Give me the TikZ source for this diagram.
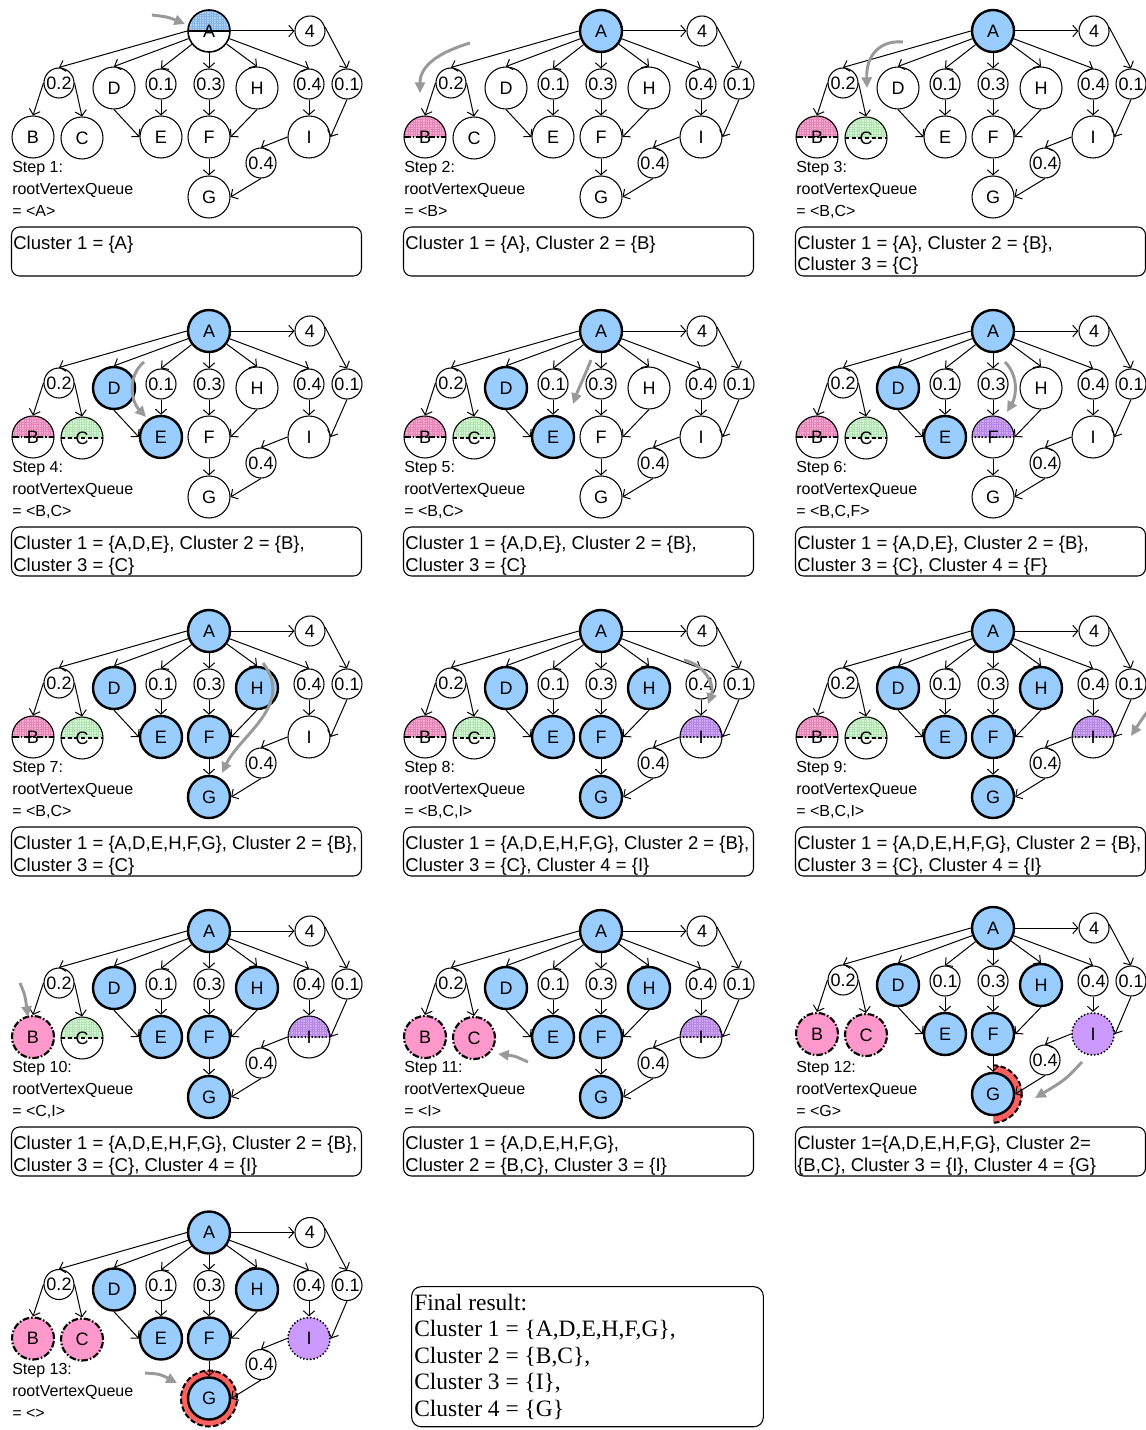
\documentclass[tikz,border=0pt]{standalone}
\usepackage{fontspec}
\setmainfont{Liberation Sans}
\newfontfamily\resultfont{Liberation Serif}
\usetikzlibrary{arrows.meta,patterns.meta}
\definecolor{nblue}{HTML}{99CCFF}
\definecolor{npink}{HTML}{FF99CC}
\definecolor{ngreen}{HTML}{CCFFCC}
\definecolor{npurple}{HTML}{CC99FF}
\definecolor{nred}{HTML}{FF3333}
\definecolor{garrow}{HTML}{999999}
\pgfdeclarelayer{bg}
\pgfsetlayers{bg,main}
\tikzset{
  vtx/.style={circle, draw, line width=0.8pt, fill=white, inner sep=0pt,
     font=\fontsize{13.5pt}{16pt}\selectfont},
  big/.style={vtx, minimum size=31.5pt},
  small/.style={vtx, minimum size=22.5pt},
  arr/.style={line width=0.75pt, -{Straight Barb[length=3.8pt,width=8.5pt]}},
  garr/.style={draw=garrow, line width=2.2pt, -{Triangle[length=8pt,width=7.5pt]}},
  bluev/.style={fill=nblue, line width=1.8pt},
  dashdotline/.style={dash pattern=on 5pt off 1.5pt on 1.2pt off 1.5pt},
  dashline/.style={dash pattern=on 3pt off 2pt},
  dotline/.style={line cap=round, dash pattern=on 0pt off 2.6pt},
  halfv/.style 2 args={path picture={
     \fill[#1!85] (path picture bounding box.north west) rectangle (path picture bounding box.east);
     \fill[pattern={Lines[angle=0,distance=1.8pt,line width=0.25pt]}, pattern color=#1!88!black]
        (path picture bounding box.north west) rectangle (path picture bounding box.east);
     \fill[pattern={Lines[angle=90,distance=1.8pt,line width=0.25pt]}, pattern color=#1!88!black]
        (path picture bounding box.north west) rectangle (path picture bounding box.east);
     \draw[line width=1.6pt, #2] (path picture bounding box.west) -- (path picture bounding box.east);}},
  pinkv/.style={fill=npink, line width=1.6pt, dashdotline},
  purplev/.style={fill=npurple, line width=1.6pt, dotline},
  sA/.style={}, sB/.style={}, sC/.style={}, sD/.style={}, sE/.style={},
  sF/.style={}, sG/.style={}, sH/.style={}, sI/.style={},
  steptxt/.style={anchor=base west, inner sep=0pt, font=\fontsize{12pt}{14pt}\selectfont},
  ctxt/.style={anchor=base west, inner sep=0pt, font=\fontsize{13.9pt}{16pt}\selectfont},
  rtxt/.style={anchor=base west, inner sep=0pt, font=\resultfont\fontsize{17.6pt}{20pt}\selectfont},
  cbox/.style={draw, line width=0.8pt, rounded corners=6pt, minimum width=262.5pt,
     minimum height=36.75pt, inner sep=0pt},
  ringfill/.style={fill=nred!78},
  ringline/.style={line width=1.5pt, dash pattern=on 4pt off 2pt},
}
\newcommand\drawgraph{%
  \node[big, sA] (A) at (209,31) {A};
  \node[small] (n4) at (310,31) {4};
  \node[small] (w02) at (59,83) {0.2};
  \node[big, sD] (D) at (114,88) {D};
  \node[small] (w01a) at (161,84) {0.1};
  \node[small] (w03) at (209,84) {0.3};
  \node[big, sH] (H) at (257,88) {H};
  \node[small] (w04a) at (309,84) {0.4};
  \node[small] (w01b) at (347,84) {0.1};
  \node[big, sB] (B) at (33,137) {B};
  \node[big, sC] (C) at (82,138) {C};
  \node[big, sE] (E) at (161,137) {E};
  \node[big, sF] (F) at (209,137) {F};
  \node[big, sI] (I) at (309,137) {I};
  \node[small] (w04b) at (261,163) {0.4};
  \node[big, sG] (G) at (209,197) {G};
  \draw[arr] (A.east) -- (n4.west);
  \draw[arr] (A.west) -- (w02.north);
  \draw[arr] (A) -- (D.north);
  \draw[arr] (A) -- (w01a.north);
  \draw[arr] (A) -- (w03);
  \draw[arr] (A) -- (H.north);
  \draw[arr] (A) -- (w04a.north);
  \draw[arr] (n4.15) -- (w01b.north);
  \draw[arr] (w02.west) -- (B.north);
  \draw[arr] (w02.east) -- (C.north);
  \draw[arr] (D.south) -- (E.west);
  \draw[arr] (w01a) -- (E);
  \draw[arr] (w03) -- (F);
  \draw[arr] (H.south) -- (F.east);
  \draw[arr] (w04a) -- (I);
  \draw[arr] (w01b.south) -- (I.east);
  \draw[arr] (I.west) -- (w04b.north);
  \draw[arr] (w04b.south) -- (G.east);
  \draw[arr] (F) -- (G);
}
\newcommand\steptext[2]{%
  \node[steptxt] (s1) at (12,172.5) {Step #1:};
  \node[steptxt] (s2) at (12,194.5) {rootVertexQueue};
  \node[steptxt] (s3) at (12,216.5) {= <#2>};
}
\newcommand\clusterA[1]{%
  \node[cbox] (box) at (186.5,251.5) {};
  \node[ctxt] (c1) at (13,249) {#1};
}
\newcommand\clusterB[2]{%
  \node[cbox] (box) at (186.5,251.5) {};
  \node[ctxt] (c1) at (13,249) {#1};
  \node[ctxt] (c2) at (13,271) {#2};
}
\begin{document}
\begin{tikzpicture}[x=0.75pt,y=-0.75pt]
\useasboundingbox (0,0) rectangle (1145,1430);
\begin{pgfonlayer}{bg}
  \fill[white] (0,0) rectangle (1145,1430);
\end{pgfonlayer}

% Step 1
\begin{scope}[shift={(0,0)}, name prefix=p1-, sA/.style={halfv={nblue}{solid}, line width=1.2pt}]
  \drawgraph
  \steptext{1}{A}
  \clusterA{Cluster 1 = \{A\}}
  \coordinate (gt) at (152,15); \coordinate (gh) at (185,24);
  \draw[garr] (gt) .. controls (168,17) .. (gh);
\end{scope}

% Step 2
\begin{scope}[shift={(392,0)}, name prefix=p2-, sA/.style={bluev}, sB/.style={halfv={npink}{dashdotline}}]
  \drawgraph
  \steptext{2}{B}
  \clusterA{Cluster 1 = \{A\}, Cluster 2 = \{B\}}
  \coordinate (gt) at (78,43); \coordinate (gh) at (28,93);
  \draw[garr] (gt) .. controls (48,52) and (28,65) .. (gh);
\end{scope}

% Step 3
\begin{scope}[shift={(784,0)}, name prefix=p3-, sA/.style={bluev}, sB/.style={halfv={npink}{dashdotline}},
   sC/.style={halfv={ngreen}{dashline}}]
  \drawgraph
  \steptext{3}{B,C}
  \clusterB{Cluster 1 = \{A\}, Cluster 2 = \{B\},}{Cluster 3 = \{C\}}
  \coordinate (gt) at (119,42); \coordinate (gh) at (83,88);
  \draw[garr] (gt) .. controls (96,40) and (82,55) .. (gh);
\end{scope}

% Step 4
\begin{scope}[shift={(0,300)}, name prefix=p4-, sA/.style={bluev}, sD/.style={bluev}, sE/.style={bluev},
   sB/.style={halfv={npink}{dashdotline}}, sC/.style={halfv={ngreen}{dashline}}]
  \drawgraph
  \steptext{4}{B,C}
  \clusterB{Cluster 1 = \{A,D,E\}, Cluster 2 = \{B\},}{Cluster 3 = \{C\}}
  \coordinate (gt) at (144,62); \coordinate (gh) at (146,117);
  \draw[garr] (gt) .. controls (128,75) and (130,100) .. (gh);
\end{scope}

% Step 5
\begin{scope}[shift={(392,300)}, name prefix=p5-, sA/.style={bluev}, sD/.style={bluev}, sE/.style={bluev},
   sB/.style={halfv={npink}{dashdotline}}, sC/.style={halfv={ngreen}{dashline}}]
  \drawgraph
  \steptext{5}{B,C}
  \clusterB{Cluster 1 = \{A,D,E\}, Cluster 2 = \{B\},}{Cluster 3 = \{C\}}
  \coordinate (gt) at (199,60); \coordinate (gh) at (181,104);
  \draw[garr] (gt) .. controls (193,75) and (186,90) .. (gh);
\end{scope}

% Step 6
\begin{scope}[shift={(784,300)}, name prefix=p6-, sA/.style={bluev}, sD/.style={bluev}, sE/.style={bluev},
   sB/.style={halfv={npink}{dashdotline}}, sC/.style={halfv={ngreen}{dashline}},
   sF/.style={halfv={npurple}{dotline}}]
  \drawgraph
  \steptext{6}{B,C,F}
  \clusterB{Cluster 1 = \{A,D,E\}, Cluster 2 = \{B\},}{Cluster 3 = \{C\}, Cluster 4 = \{F\}}
  \coordinate (gt) at (221,62); \coordinate (gh) at (223,112);
  \draw[garr] (gt) .. controls (234,75) and (233,95) .. (gh);
\end{scope}

% Step 7
\begin{scope}[shift={(0,600)}, name prefix=p7-, sA/.style={bluev}, sD/.style={bluev}, sE/.style={bluev},
   sH/.style={bluev}, sF/.style={bluev}, sG/.style={bluev},
   sB/.style={halfv={npink}{dashdotline}}, sC/.style={halfv={ngreen}{dashline}}]
  \drawgraph
  \steptext{7}{B,C}
  \clusterB{Cluster 1 = \{A,D,E,H,F,G\}, Cluster 2 = \{B\},}{Cluster 3 = \{C\}}
  \coordinate (gt) at (263,63); \coordinate (gh) at (222,173);
  \draw[garr] (gt) .. controls (295,105) and (240,135) .. (gh);
\end{scope}

% Step 8
\begin{scope}[shift={(392,600)}, name prefix=p8-, sA/.style={bluev}, sD/.style={bluev}, sE/.style={bluev},
   sH/.style={bluev}, sF/.style={bluev}, sG/.style={bluev},
   sB/.style={halfv={npink}{dashdotline}}, sC/.style={halfv={ngreen}{dashline}},
   sI/.style={halfv={npurple}{dotline}}]
  \drawgraph
  \steptext{8}{B,C,I}
  \clusterB{Cluster 1 = \{A,D,E,H,F,G\}, Cluster 2 = \{B\},}{Cluster 3 = \{C\}, Cluster 4 = \{I\}}
  \coordinate (gt) at (292,60); \coordinate (gh) at (316,104);
  \draw[garr] (gt) .. controls (313,65) and (323,85) .. (gh);
\end{scope}

% Step 9
\begin{scope}[shift={(784,600)}, name prefix=p9-, sA/.style={bluev}, sD/.style={bluev}, sE/.style={bluev},
   sH/.style={bluev}, sF/.style={bluev}, sG/.style={bluev},
   sB/.style={halfv={npink}{dashdotline}}, sC/.style={halfv={ngreen}{dashline}},
   sI/.style={halfv={npurple}{dotline}}]
  \drawgraph
  \steptext{9}{B,C,I}
  \clusterB{Cluster 1 = \{A,D,E,H,F,G\}, Cluster 2 = \{B\},}{Cluster 3 = \{C\}, Cluster 4 = \{I\}}
  \coordinate (gt) at (363,112); \coordinate (gh) at (347,136);
  \draw[garr] (gt) .. controls (356,122) .. (gh);
\end{scope}

% Step 10
\begin{scope}[shift={(0,900)}, name prefix=p10-, sA/.style={bluev}, sD/.style={bluev}, sE/.style={bluev},
   sH/.style={bluev}, sF/.style={bluev}, sG/.style={bluev},
   sB/.style={pinkv}, sC/.style={halfv={ngreen}{dashline}},
   sI/.style={halfv={npurple}{dotline}}]
  \drawgraph
  \steptext{10}{C,I}
  \clusterB{Cluster 1 = \{A,D,E,H,F,G\}, Cluster 2 = \{B\},}{Cluster 3 = \{C\}, Cluster 4 = \{I\}}
  \coordinate (gt) at (20,83); \coordinate (gh) at (28,117);
  \draw[garr] (gt) .. controls (25,95) .. (gh);
\end{scope}

% Step 11
\begin{scope}[shift={(392,900)}, name prefix=p11-, sA/.style={bluev}, sD/.style={bluev}, sE/.style={bluev},
   sH/.style={bluev}, sF/.style={bluev}, sG/.style={bluev},
   sB/.style={pinkv}, sC/.style={pinkv}, sI/.style={halfv={npurple}{dotline}}]
  \drawgraph
  \steptext{11}{I}
  \clusterB{Cluster 1 = \{A,D,E,H,F,G\},}{Cluster 2 = \{B,C\}, Cluster 3 = \{I\}}
  \coordinate (gt) at (136,162); \coordinate (gh) at (106,154);
  \draw[garr] (gt) .. controls (123,156) .. (gh);
\end{scope}

% Step 12
\begin{scope}[shift={(784,900)}, name prefix=p12-, sA/.style={bluev}, sD/.style={bluev}, sE/.style={bluev},
   sH/.style={bluev}, sF/.style={bluev}, sG/.style={bluev},
   sB/.style={pinkv}, sC/.style={pinkv}, sI/.style={purplev}]
  \begin{scope}[shift={(0,-3)}]
    \drawgraph
  \end{scope}
  \begin{pgfonlayer}{bg}
    \begin{scope}
      \clip ([yshift=12pt]G.north) rectangle ([xshift=30pt,yshift=-12pt]G.south);
      \fill[ringfill, even odd rule] (G.center) circle[radius=21.5pt] (G.center) circle[radius=15.75pt];
      \draw[ringline] (G.center) circle[radius=21.5pt];
    \end{scope}
  \end{pgfonlayer}
  \steptext{12}{G}
  \clusterB{Cluster 1=\{A,D,E,H,F,G\}, Cluster 2=}{\{B,C\}, Cluster 3 = \{I\}, Cluster 4 = \{G\}}
  \coordinate (gt) at (298,162); \coordinate (gh) at (251,198);
  \draw[garr] (gt) .. controls (281,180) .. (gh);
\end{scope}

% Step 13
\begin{scope}[shift={(0,1201.5)}, name prefix=p13-, sA/.style={bluev}, sD/.style={bluev}, sE/.style={bluev},
   sH/.style={bluev}, sF/.style={bluev}, sG/.style={bluev},
   sB/.style={pinkv}, sC/.style={pinkv}, sI/.style={purplev}]
  \drawgraph
  \begin{pgfonlayer}{bg}
    \fill[ringfill, even odd rule] (G.center) circle[radius=21pt] (G.center) circle[radius=15.75pt];
    \draw[ringline] (G.center) circle[radius=21pt];
  \end{pgfonlayer}
  \steptext{13}{}
  \coordinate (gt) at (145,171.5); \coordinate (gh) at (177,181.5);
  \draw[garr] (gt) .. controls (160,172.5) .. (gh);
\end{scope}

% Final result
\node[draw, line width=0.8pt, rounded corners=7pt, minimum width=263.7pt, minimum height=105pt,
  inner sep=0pt] (final) at (587.5,1356.7) {};
\node[rtxt] (r1) at (414,1310) {Final result:};
\node[rtxt] (r2) at (414,1336.5) {Cluster 1 = \{A,D,E,H,F,G\},};
\node[rtxt] (r3) at (414,1363) {Cluster 2 = \{B,C\},};
\node[rtxt] (r4) at (414,1389.5) {Cluster 3 = \{I\},};
\node[rtxt] (r5) at (414,1416) {Cluster 4 = \{G\}};
\end{tikzpicture}
\end{document}
